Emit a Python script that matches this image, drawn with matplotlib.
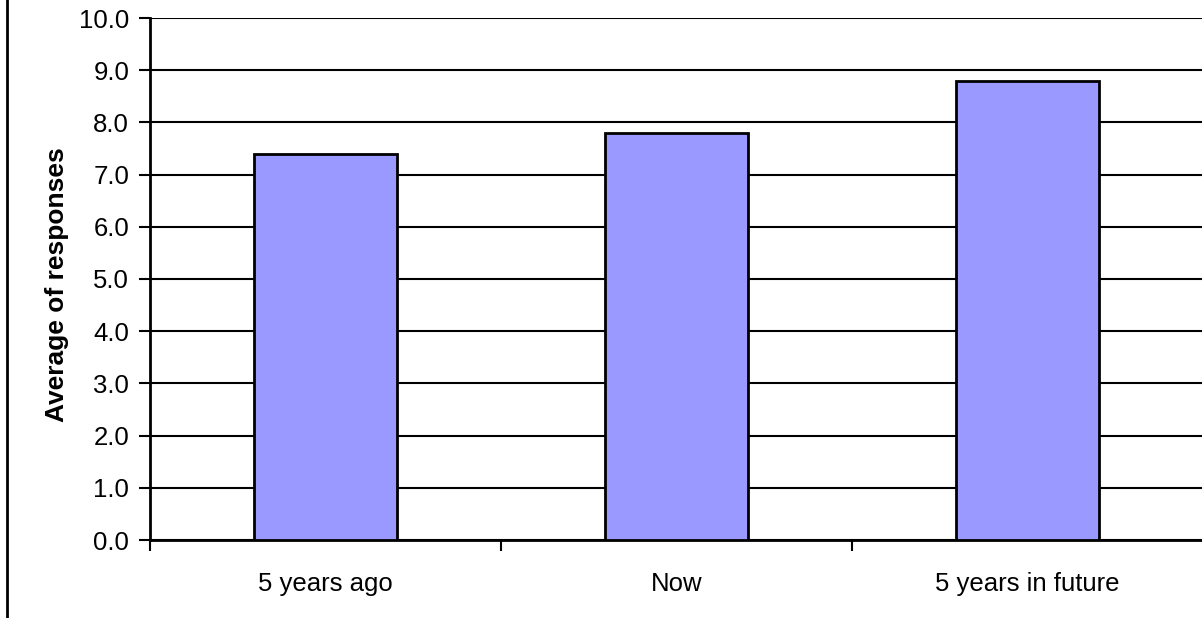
import matplotlib
matplotlib.use("Agg")
import matplotlib.pyplot as plt
from matplotlib.lines import Line2D
import numpy as np

categories = ["5 years ago", "Now", "5 years in future"]
values = [7.4, 7.8, 8.8]
yticks = [0, 1, 2, 3, 4, 5, 6, 7, 8, 9, 10]

plt.rcParams['font.family'] = ['Liberation Sans', 'DejaVu Sans']

W, H = 1202, 618
fig = plt.figure(figsize=(W/100, H/100), dpi=100)
ax = fig.add_axes([150/W, 1-540/H, (1203-150)/W, (540-18)/H])

x = np.arange(len(categories))
ax.bar(x, values, width=0.405, color="#9999ff", edgecolor="black", linewidth=2, zorder=3)

ax.set_xlim(-0.5, 2.5)
ax.set_ylim(0, 10)
ax.set_yticks(yticks)
ax.set_yticklabels([f"{v:.1f}" for v in yticks], fontsize=18.5)
ax.yaxis.grid(True, color="black", linewidth=1.5, zorder=0)
ax.set_axisbelow(True)

ax.set_xticks(x)
ax.set_xticklabels(categories, fontsize=18.5)
ax.tick_params(axis='x', length=0, pad=23)
ax.set_xticks([-0.5, 0.5, 1.5], minor=True)
ax.tick_params(axis='x', which='minor', length=8, width=1.5, direction='out')
ax.tick_params(axis='y', length=8, width=1.5, direction='out', pad=7)

for s in ['top', 'right']:
    ax.spines[s].set_visible(False)
ax.spines['left'].set_linewidth(2)
ax.spines['bottom'].set_linewidth(2)

ax.set_ylabel("Average of responses", fontsize=19, fontweight='bold')
ax.yaxis.set_label_coords(69/W, 1-285/H, transform=fig.transFigure)

fig.add_artist(Line2D([7/W, 7/W], [0, 1], color="black", linewidth=2, transform=fig.transFigure))

fig.savefig("out.png", dpi=100)
